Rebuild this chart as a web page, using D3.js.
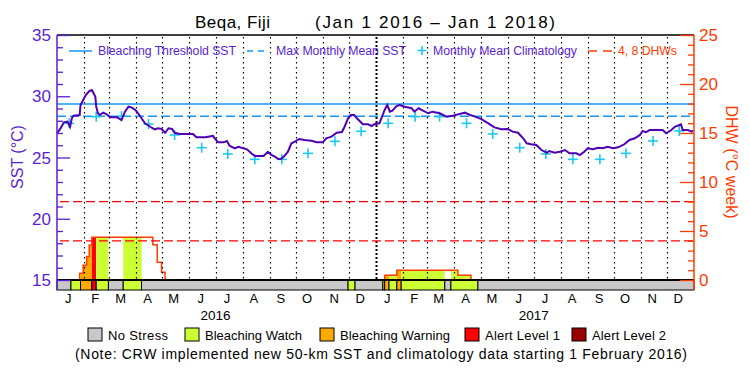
<!DOCTYPE html>
<html>
<head>
<meta charset="utf-8">
<script src="https://cdn.jsdelivr.net/npm/d3@7"></script>
<style>
  body { margin: 0; background: #fff; }
  svg { display: block; font-family: "Liberation Sans", Arial, sans-serif; }
</style>
</head>
<body>
<svg id="chart" width="750" height="375"></svg>
<script>
// daily SST (deg C)
const sst = [
  ["2016-01-01",26.97],["2016-01-05",27.38],["2016-01-09",27.87],["2016-01-13",27.92],["2016-01-16",27.51],
  ["2016-01-18",28.2],["2016-01-20",28.41],["2016-01-27",28.47],["2016-01-28",29.29],["2016-01-31",29.69],
  ["2016-02-03",30.1],["2016-02-07",30.43],["2016-02-10",30.51],["2016-02-12",30.24],["2016-02-14",29.96],
  ["2016-02-15",29.15],["2016-02-17",28.61],["2016-02-19",28.47],["2016-02-23",28.66],["2016-02-27",28.53],
  ["2016-03-02",28.28],["2016-03-10",28.28],["2016-03-15",28.06],["2016-03-19",28.74],["2016-03-23",29.15],
  ["2016-03-27",29.07],["2016-03-31",28.88],["2016-04-03",28.61],["2016-04-07",28.2],["2016-04-11",27.79],
  ["2016-04-17",27.51],["2016-04-22",27.3],["2016-04-26",27.38],["2016-04-30",27.33],["2016-05-04",27.02],
  ["2016-05-08",27.38],["2016-05-12",27.33],["2016-05-15",27.02],["2016-05-21",26.92],["2016-06-05",26.92],
  ["2016-06-09",26.65],["2016-06-19",26.65],["2016-06-28",26.76],["2016-06-30",26.57],["2016-07-04",26.24],
  ["2016-07-10",26.24],["2016-07-14",26.35],["2016-07-17",25.96],["2016-07-23",25.75],["2016-07-27",25.88],
  ["2016-08-06",25.67],["2016-08-11",25.34],["2016-08-15",25.12],["2016-08-25",25.12],["2016-08-30",25.47],
  ["2016-09-03",25.22],["2016-09-07",25.07],["2016-09-11",24.88],["2016-09-14",24.88],["2016-09-18",25.12],
  ["2016-09-22",25.47],["2016-09-26",26.16],["2016-09-30",26.29],["2016-10-05",26.51],["2016-10-11",26.43],
  ["2016-10-19",26.37],["2016-10-25",26.24],["2016-11-01",26.24],["2016-11-05",26.57],["2016-11-11",26.7],
  ["2016-11-17",27.02],["2016-11-23",27.08],["2016-11-26",27.51],["2016-11-30",28.2],["2016-12-03",28.47],
  ["2016-12-07",28.47],["2016-12-11",28.14],["2016-12-17",27.71],["2016-12-23",27.71],["2016-12-27",27.57],
  ["2016-12-30",27.71],["2017-01-05",27.79],["2017-01-08",28.33],["2017-01-11",28.88],["2017-01-14",29.29],
  ["2017-01-17",28.74],["2017-01-20",28.82],["2017-01-24",29.15],["2017-01-28",29.29],["2017-02-03",29.15],
  ["2017-02-11",29.02],["2017-02-14",28.74],["2017-02-19",29.02],["2017-02-24",28.82],["2017-03-02",28.61],
  ["2017-03-07",28.74],["2017-03-15",28.61],["2017-03-23",28.33],["2017-03-30",28.41],["2017-04-07",28.55],
  ["2017-04-13",28.66],["2017-04-19",28.47],["2017-04-24",28.36],["2017-05-02",28.14],["2017-05-10",27.79],
  ["2017-05-17",27.46],["2017-05-25",27.3],["2017-06-01",27.33],["2017-06-07",27.11],["2017-06-13",27.02],
  ["2017-06-19",26.57],["2017-06-23",26.16],["2017-06-28",26.08],["2017-07-04",26.02],["2017-07-10",25.61],
  ["2017-07-16",25.39],["2017-07-19",25.53],["2017-07-25",25.39],["2017-07-31",25.47],["2017-08-06",25.61],
  ["2017-08-11",25.34],["2017-08-19",25.34],["2017-08-23",25.2],["2017-08-28",25.47],["2017-09-01",25.75],
  ["2017-09-07",25.67],["2017-09-13",25.8],["2017-09-18",25.75],["2017-09-24",25.88],["2017-09-30",25.75],
  ["2017-10-06",25.83],["2017-10-13",26.08],["2017-10-19",26.43],["2017-10-25",26.57],["2017-10-31",26.84],
  ["2017-11-03",27.16],["2017-11-07",27.06],["2017-11-11",27.24],["2017-11-26",27.24],["2017-11-30",26.98],
  ["2017-12-06",27.24],["2017-12-10",27.51],["2017-12-17",27.71],["2017-12-19",27.24],["2017-12-25",27.24],
  ["2017-12-29",27.11],["2017-12-31",27.2]
];

// monthly mean climatology, plotted mid-month
const climMonths = ["2016-01-15","2016-02-15","2016-03-15","2016-04-15","2016-05-15","2016-06-15",
  "2016-07-15","2016-08-15","2016-09-15","2016-10-15","2016-11-15","2016-12-15",
  "2017-01-15","2017-02-15","2017-03-15","2017-04-15","2017-05-15","2017-06-15",
  "2017-07-15","2017-08-15","2017-09-15","2017-10-15","2017-11-15","2017-12-15"];
const climValues = [27.79,28.33,28.38,27.73,26.84,25.8,25.29,24.85,24.85,25.34,26.32,27.14,
  27.79,28.33,28.33,27.79,26.92,25.8,25.29,24.85,24.85,25.34,26.35,27.16];

const mmm = 28.37;
const bleachThreshold = 29.37;
const dhwLevels = [4, 8];

// degree heating weeks, step values
const dhw = [
  ["2016-01-01",0],["2016-01-27",0.68],["2016-01-31",1.5],["2016-02-04",2.4],["2016-02-07",3.57],
  ["2016-02-10",4.36],["2016-04-20",3.6],["2016-04-25",1.8],["2016-04-30",0.8],["2016-05-04",0],
  ["2017-01-11",0.48],["2017-01-25",1.0],["2017-04-05",0.48],["2017-04-20",0],["2018-01-01",0]
];

// daily stress level: 0 none, 1 watch, 2 warning, 3 alert 1, 4 alert 2
const stress = [
  ["2016-01-01","2016-01-17",0],["2016-01-17","2016-01-28",1],["2016-01-28","2016-02-10",2],
  ["2016-02-10","2016-02-15",3],["2016-02-15","2016-02-29",1],["2016-02-29","2016-03-17",0],
  ["2016-03-17","2016-04-07",1],["2016-04-07","2016-11-30",0],["2016-11-30","2016-12-08",1],
  ["2016-12-08","2017-01-09",0],["2017-01-09","2017-01-11",1],["2017-01-11","2017-01-16",2],
  ["2017-01-16","2017-01-25",1],["2017-01-25","2017-01-30",2],["2017-01-30","2017-03-21",1],
  ["2017-03-21","2017-03-28",0],["2017-03-28","2017-04-28",1],["2017-04-28","2018-01-01",0]
];

const stressNames = ["No Stress","Bleaching Watch","Bleaching Warning","Alert Level 1","Alert Level 2"];
const stressColors = ["#c8c8c8","#ccff33","#ffaa00","#ff0000","#990000"];
const monthLetters = ["J","F","M","A","M","J","J","A","S","O","N","D"];
const years = [2016, 2017];

const purple = "#5a1ed2", lineCol = "#5000b4", red = "#ff3c00", blue = "#1496f5", cyan = "#1ec8f0";

const parse = d3.utcParse("%Y-%m-%d");
const svg = d3.select("#chart");

const x = d3.scaleUtc().domain([Date.UTC(2016,0,1), Date.UTC(2018,0,1)]).range([57, 694]);
const ySST = d3.scaleLinear().domain([15, 35]).range([280, 35]);
const yDHW = d3.scaleLinear().domain([0, 25]).range([280, 35]);
const barTop = 280, barBot = 290;

// DHW fill coloured by stress level
const dhwData = dhw.map(d => ({date: parse(d[0]), v: d[1]}));
const area = d3.area().curve(d3.curveStepAfter)
  .x(d => x(d.date)).y0(yDHW(0)).y1(d => yDHW(d.v));
const defs = svg.append("defs");
stress.forEach((s, i) => {
  if (s[2] === 0) return;
  defs.append("clipPath").attr("id", "cl" + i)
    .append("rect")
    .attr("x", x(parse(s[0]))).attr("width", x(parse(s[1])) - x(parse(s[0])))
    .attr("y", 35).attr("height", barTop - 35);
  svg.append("path").datum(dhwData)
    .attr("d", area).attr("fill", stressColors[s[2]])
    .attr("clip-path", `url(#cl${i})`);
});
svg.append("path").datum(dhwData)
  .attr("d", d3.line().curve(d3.curveStepAfter).x(d => x(d.date)).y(d => yDHW(d.v)))
  .attr("fill", "none").attr("stroke", red).attr("stroke-width", 1.5);

// month grid
const months = d3.utcMonths(Date.UTC(2016,1,1), Date.UTC(2018,0,1));
svg.append("g").selectAll("line").data(months).join("line")
  .attr("x1", d => Math.round(x(d)) + 0.5).attr("x2", d => Math.round(x(d)) + 0.5)
  .attr("y1", 37).attr("y2", barTop)
  .attr("stroke", "#000")
  .attr("stroke-width", d => d.getUTCMonth() === 0 ? 2 : 1.2)
  .attr("stroke-dasharray", d => d.getUTCMonth() === 0 ? "2,2" : "1.5,3.5");

// DHW 4 and 8 reference lines
svg.append("g").selectAll("line").data(dhwLevels).join("line")
  .attr("x1", 60).attr("x2", 694)
  .attr("y1", d => yDHW(d)).attr("y2", d => yDHW(d))
  .attr("stroke", "#ff0000").attr("stroke-width", 1.3).attr("stroke-dasharray", "9,4");

// threshold and MMM
svg.append("line").attr("x1", 57).attr("x2", 694)
  .attr("y1", ySST(bleachThreshold)).attr("y2", ySST(bleachThreshold))
  .attr("stroke", blue).attr("stroke-width", 1.5);
svg.append("line").attr("x1", 57).attr("x2", 694)
  .attr("y1", ySST(mmm)).attr("y2", ySST(mmm))
  .attr("stroke", blue).attr("stroke-width", 1.5).attr("stroke-dasharray", "9,4");

// climatology pluses
const plus = (g, cx, cy, r) => {
  g.append("line").attr("x1", cx - r).attr("x2", cx + r).attr("y1", cy).attr("y2", cy);
  g.append("line").attr("x1", cx).attr("x2", cx).attr("y1", cy - r).attr("y2", cy + r);
};
const climG = svg.append("g").attr("stroke", cyan).attr("stroke-width", 1.6);
climMonths.forEach((m, i) => plus(climG, x(parse(m)), ySST(climValues[i]), 5));

// SST line
svg.append("path").datum(sst)
  .attr("d", d3.line().x(d => x(parse(d[0]))).y(d => ySST(d[1])))
  .attr("fill", "none").attr("stroke", lineCol).attr("stroke-width", 2);

// stress bar
svg.append("g").selectAll("rect").data(stress).join("rect")
  .attr("x", d => x(parse(d[0]))).attr("width", d => x(parse(d[1])) - x(parse(d[0])))
  .attr("y", barTop).attr("height", barBot - barTop)
  .attr("fill", d => stressColors[d[2]]).attr("stroke", "#000").attr("stroke-width", 1);
svg.append("line").attr("x1", 57).attr("x2", 694).attr("y1", barTop).attr("y2", barTop)
  .attr("stroke", "#000").attr("stroke-width", 2);

// top border
svg.append("line").attr("x1", 57).attr("x2", 694).attr("y1", 35).attr("y2", 35)
  .attr("stroke", "#000").attr("stroke-width", 1.5);

// left axis
const leftAxis = svg.append("g").attr("transform", "translate(57,0)")
  .call(d3.axisRight(ySST).tickValues(d3.range(15, 36, 1)).tickSize(6).tickFormat(""));
leftAxis.select(".domain").remove();
leftAxis.selectAll("line").attr("stroke", purple).attr("stroke-width", 1.3)
  .attr("x2", d => d % 5 === 0 ? 13 : 6);
svg.append("line").attr("x1", 57).attr("x2", 57).attr("y1", 35).attr("y2", barBot)
  .attr("stroke", purple).attr("stroke-width", 1.5);
svg.append("g").selectAll("text").data(d3.range(15, 36, 5)).join("text")
  .attr("x", 51).attr("y", d => ySST(d) + 6).attr("text-anchor", "end")
  .attr("font-size", 17).attr("fill", purple).text(d => d);
svg.append("text").attr("transform", "translate(23,157) rotate(-90)")
  .attr("text-anchor", "middle").attr("font-size", 16).attr("fill", purple).text("SST (°C)");

// right axis
const rightAxis = svg.append("g").attr("transform", "translate(694,0)")
  .call(d3.axisLeft(yDHW).tickValues(d3.range(0, 26, 1)).tickSize(6).tickFormat(""));
rightAxis.select(".domain").remove();
rightAxis.selectAll("line").attr("stroke", red).attr("stroke-width", 1.3)
  .attr("x2", d => d % 5 === 0 ? -14 : -6);
svg.append("line").attr("x1", 694).attr("x2", 694).attr("y1", 35).attr("y2", barBot)
  .attr("stroke", red).attr("stroke-width", 1.5);
svg.append("g").selectAll("text").data(d3.range(0, 26, 5)).join("text")
  .attr("x", 699).attr("y", d => yDHW(d) + 6)
  .attr("font-size", 17).attr("fill", red).text(d => d);
svg.append("text").attr("transform", "translate(726,162) rotate(90)")
  .attr("text-anchor", "middle").attr("font-size", 16).attr("fill", red).text("DHW (°C week)");

// month and year labels
const allMonths = d3.utcMonths(Date.UTC(2016,0,1), Date.UTC(2018,0,1));
svg.append("g").selectAll("text").data(allMonths).join("text")
  .attr("x", d => x(d3.utcDay.offset(d, 13))).attr("y", 303)
  .attr("text-anchor", "middle").attr("font-size", 13).text(d => monthLetters[d.getUTCMonth()]);
svg.append("g").selectAll("text").data(years).join("text")
  .attr("x", d => x(Date.UTC(d, 6, 1))).attr("y", 320)
  .attr("text-anchor", "middle").attr("font-size", 13.5).text(d => d);

// title
svg.append("text").attr("x", 195).attr("y", 28).attr("font-size", 17)
  .attr("textLength", 75).text("Beqa, Fiji");
svg.append("text").attr("x", 315).attr("y", 28).attr("font-size", 17)
  .attr("textLength", 240).text("(Jan 1 2016 \u2013 Jan 1 2018)");

// top legend
const tl = svg.append("g").attr("font-size", 12.3);
tl.append("line").attr("x1", 69).attr("x2", 92).attr("y1", 51).attr("y2", 51).attr("stroke", blue).attr("stroke-width", 1.5);
tl.append("text").attr("x", 98).attr("y", 55).attr("fill", purple).attr("textLength", 138).text("Bleaching Threshold SST");
tl.append("line").attr("x1", 247).attr("x2", 266).attr("y1", 51).attr("y2", 51).attr("stroke", blue)
  .attr("stroke-width", 1.5).attr("stroke-dasharray", "6,5");
tl.append("text").attr("x", 276).attr("y", 55).attr("fill", purple).attr("textLength", 130).text("Max Monthly Mean SST");
const tlp = tl.append("g").attr("stroke", cyan).attr("stroke-width", 1.6);
plus(tlp, 422, 50.5, 4.5);
tl.append("text").attr("x", 433).attr("y", 55).attr("fill", purple).attr("textLength", 144).text("Monthly Mean Climatology");
tl.append("line").attr("x1", 588).attr("x2", 612).attr("y1", 51).attr("y2", 51).attr("stroke", red)
  .attr("stroke-width", 1.5).attr("stroke-dasharray", "9,6");
tl.append("text").attr("x", 618).attr("y", 55).attr("fill", red).attr("textLength", 59).text("4, 8 DHWs");

// bottom legend
const legX = [88, 185, 320, 465, 572];
const legW = [60, 97, 110, 75, 74];
const bl = svg.append("g").attr("font-size", 13);
stressNames.forEach((n, i) => {
  bl.append("rect").attr("x", legX[i]).attr("y", 328).attr("width", 14).attr("height", 13)
    .attr("fill", stressColors[i]).attr("stroke", "#000").attr("stroke-width", 1);
  bl.append("text").attr("x", legX[i] + 20).attr("y", 340).attr("textLength", legW[i]).text(n);
});
svg.append("text").attr("x", 381).attr("y", 359).attr("text-anchor", "middle").attr("font-size", 14)
  .attr("textLength", 612)
  .text("(Note: CRW implemented new 50-km SST and climatology data starting 1 February 2016)");
</script>
</body>
</html>
